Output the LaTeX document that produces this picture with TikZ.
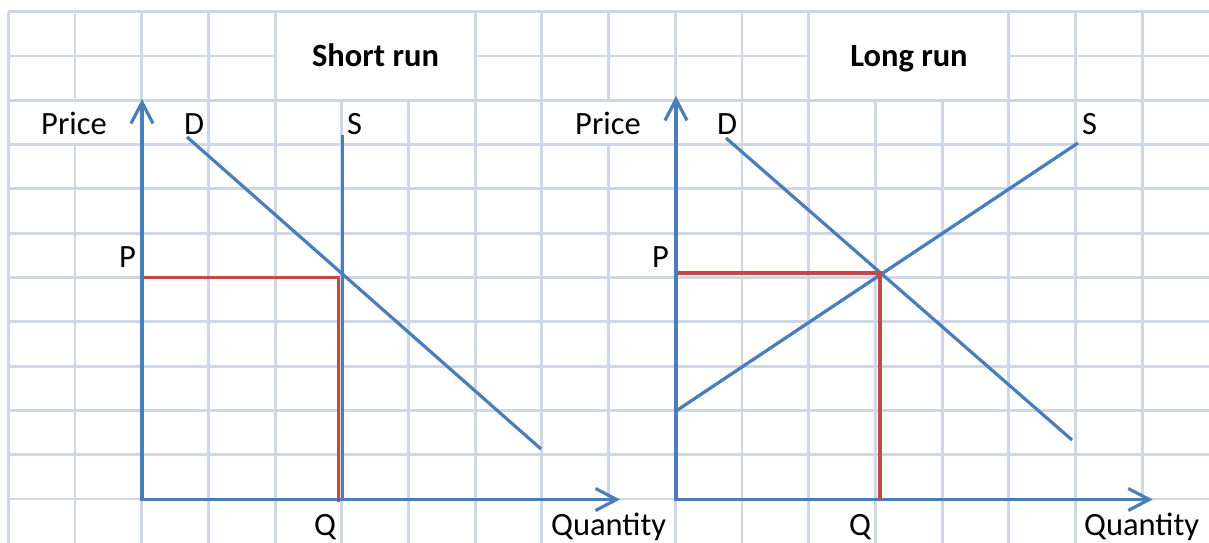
\documentclass[tikz,border=0pt]{standalone}
\usepackage{fontspec}
\setmainfont{Carlito}
\usetikzlibrary{arrows.meta}
\definecolor{gridc}{RGB}{207,215,229}
\definecolor{curveblue}{RGB}{74,126,187}
\definecolor{eqred}{RGB}{190,75,72}
\begin{document}
\begin{tikzpicture}[x=1bp,y=-1bp,
  gridline/.style={draw=gridc,line width=2.9bp},
  curve/.style={draw=curveblue,line width=3.2bp},
  axes/.style={curve,{Straight Barb[length=21bp,width=22bp]}-{Straight Barb[length=21bp,width=22bp]}},
  eqline/.style={draw=eqred,line width=3.2bp},
  lbl/.style={inner sep=0pt,anchor=base west,font=\fontsize{32.5bp}{38bp}\selectfont},
  ttl/.style={inner sep=0pt,anchor=base,font=\fontsize{32.5bp}{38bp}\selectfont\bfseries}]
\useasboundingbox (0,0) rectangle (1209,543);
% grid: horizontal lines
\foreach \j in {0,2,3,...,11}
  \draw[gridline] (8.3,{11.7+44.3*\j}) -- (1209,{11.7+44.3*\j});
\draw[gridline] (8.3,56) -- (275,56);
\draw[gridline] (475,56) -- (808.3,56);
\draw[gridline] (1008.3,56) -- (1209,56);
% grid: vertical lines
\foreach \k in {0,2,3,4,7,8,10,11,12,15,16}
  \draw[gridline] ({8.3+66.7*\k},11.7) -- ({8.3+66.7*\k},543);
\foreach \k in {5,6,13,14}
  \draw[gridline] ({8.3+66.7*\k},100.3) -- ({8.3+66.7*\k},543);
\draw[gridline] (75,11.7) -- (75,100.3);
\draw[gridline] (75,144.6) -- (75,543);
\draw[gridline] (608.6,11.7) -- (608.6,100.3);
\draw[gridline] (608.6,144.6) -- (608.6,499);
\draw[gridline] (1142.2,11.7) -- (1142.2,499);

% ---------- Short run ----------
\coordinate (LO) at (142,499.5);
\coordinate (LYtip) at (142,99);
\coordinate (LXtip) at (620,499.5);
\coordinate (LD1) at (187,137);
\coordinate (LD2) at (541,449);
\coordinate (LS1) at (342.7,135);
\coordinate (LS2) at (342.7,499.5);
\coordinate (LPa) at (144,277.5);
\coordinate (LE) at (340,277.5);
\coordinate (LEv) at (338.5,276);
\coordinate (LQ) at (338.5,502);
\draw[curve] (LD1) -- (LD2);
\draw[curve] (LS1) -- (LS2);
\draw[axes] (LYtip) -- (LO) -- (LXtip);
\draw[eqline] (LPa) -- (LE);
\draw[eqline] (LEv) -- (LQ);
\node[ttl] (lt) at (375.5,66.5) {Short run};
\node[lbl] (lprice) at (41,135) {Price};
\node[lbl] (ld) at (184,135) {D};
\node[lbl] (ls) at (347,135) {S};
\node[lbl] (lp) at (119,268) {P};
\node[lbl] (lq) at (314,535) {Q};
\node[lbl] (lqty) at (551,535) {Quantity};

% ---------- Long run ----------
\coordinate (RO) at (676,499.5);
\coordinate (RYtip) at (676,96);
\coordinate (RXtip) at (1152.7,499.5);
\coordinate (RD1) at (726,138);
\coordinate (RD2) at (1072,440);
\coordinate (RS1) at (676,411);
\coordinate (RS2) at (1078,143);
\coordinate (RPa) at (678,273);
\coordinate (RE) at (881.5,273);
\coordinate (REv) at (880,271.5);
\coordinate (RQ) at (880,499);
\draw[curve] (RD1) -- (RD2);
\draw[curve] (RS1) -- (RS2);
\draw[axes] (RYtip) -- (RO) -- (RXtip);
\draw[eqline] (RPa) -- (RE);
\draw[eqline] (REv) -- (RQ);
\node[ttl] (rt) at (909,66.5) {Long run};
\node[lbl] (rprice) at (575,135) {Price};
\node[lbl] (rd) at (717,135) {D};
\node[lbl] (rs) at (1082,135) {S};
\node[lbl] (rp) at (652,268) {P};
\node[lbl] (rq) at (849,535) {Q};
\node[lbl] (rqty) at (1084,535) {Quantity};
\end{tikzpicture}
\end{document}
